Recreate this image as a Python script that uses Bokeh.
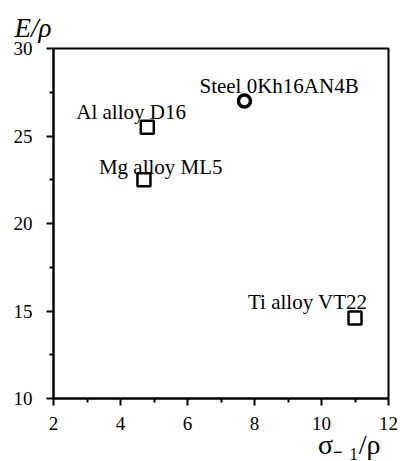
from bokeh.plotting import figure
from bokeh.models import Range1d, ColumnDataSource, FixedTicker, Title
from bokeh.core.properties import value
from bokeh.embed import file_html
from bokeh.resources import INLINE

# ---- data ----
materials = ["Al alloy D16", "Mg alloy ML5", "Steel 0Kh16AN4B", "Ti alloy VT22"]
fatigue_ratio = [4.8, 4.7, 7.7, 11.0]      # sigma_-1 / rho
modulus_ratio = [25.5, 22.5, 27.0, 14.6]   # E / rho
marker_kind = ["square", "square", "circle", "square"]
x_ticks = [2, 4, 6, 8, 10, 12]
y_ticks = [10, 15, 20, 25, 30]
x_title = "σ₋ ₁/ρ"
y_title = "E/ρ"

# label offsets in pixels relative to the marker (screen, y down)
label_dx = [-71, -45, -45, -107]
label_dy = [-15, -13, -15, -16]

FONT = "Liberation Serif"

p = figure(width=400, height=461, output_backend="svg", toolbar_location=None,
           x_range=Range1d(2, 12), y_range=Range1d(10, 30),
           min_border_left=53, min_border_right=12, min_border_top=48,
           min_border_bottom=63)
p.background_fill_color = "white"
p.border_fill_color = "white"
p.grid.visible = False
p.outline_line_color = "black"
p.outline_line_width = 2

for ax, ticks, standoff in ((p.xaxis[0], x_ticks, 11), (p.yaxis[0], y_ticks, 14)):
    ax.ticker = FixedTicker(ticks=ticks,
                            minor_ticks=[(a + b) / 2 for a, b in zip(ticks[:-1], ticks[1:])])
    ax.axis_line_width = 2
    ax.axis_line_color = "black"
    ax.major_tick_line_width = 2
    ax.minor_tick_line_width = 2
    ax.major_tick_in = 0
    ax.major_tick_out = 7
    ax.minor_tick_in = 0
    ax.minor_tick_out = 4
    ax.major_label_text_font = FONT
    ax.major_label_text_font_size = "19px"
    ax.major_label_text_color = "black"
    ax.major_label_standoff = standoff

sq = [i for i, k in enumerate(marker_kind) if k == "square"]
ci = [i for i, k in enumerate(marker_kind) if k == "circle"]

sq_src = ColumnDataSource(dict(x=[fatigue_ratio[i] for i in sq],
                               y=[modulus_ratio[i] for i in sq]))
ci_src = ColumnDataSource(dict(x=[fatigue_ratio[i] for i in ci],
                               y=[modulus_ratio[i] for i in ci]))
p.scatter("x", "y", source=sq_src, marker="square", size=13,
          fill_color=None, line_color="black", line_width=2.5)
p.scatter("x", "y", source=ci_src, marker="circle", size=12,
          fill_color=None, line_color="black", line_width=3.5)

lab_src = ColumnDataSource(dict(x=fatigue_ratio, y=modulus_ratio, t=materials,
                                dx=label_dx, dy=label_dy))
p.text("x", "y", text="t", source=lab_src, x_offset="dx", y_offset="dy",
       text_font=value(FONT), text_font_size="21px", text_color="black",
       text_align="left", text_baseline="alphabetic")

# axis titles
p.add_layout(Title(text=y_title, align="left", offset=-39, text_font=FONT,
                   text_font_style="italic", text_font_size="27px",
                   text_color="black", standoff=12), "above")
p.add_layout(Title(text=x_title, align="right", offset=8, text_font=FONT,
                   text_font_style="normal", text_font_size="28px",
                   text_color="black", standoff=-12), "below")

open("out.html", "w").write(file_html(p, INLINE))
